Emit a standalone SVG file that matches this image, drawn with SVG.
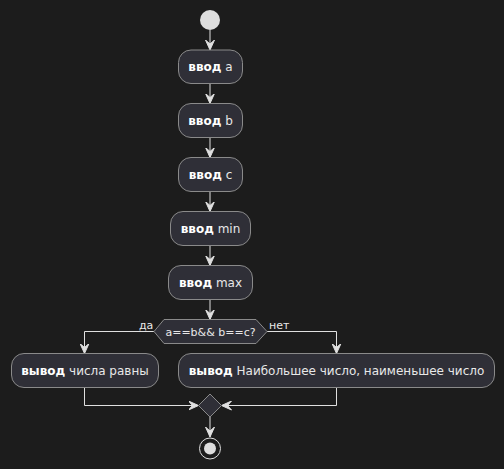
<svg xmlns="http://www.w3.org/2000/svg" width="504" height="469" viewBox="0 0 504 469">
<defs>
<style>
.n{fill:#2f2f37;stroke:#8a8a8a;stroke-width:1}
.t{font-family:"DejaVu Sans",sans-serif;font-size:12px;fill:#e8e8e8}
.b{font-weight:bold;fill:#ffffff}
.l{font-family:"DejaVu Sans",sans-serif;font-size:11px;fill:#e8e8e8}
.c{fill:none;stroke:#e0e0e0;stroke-width:1}
.ah{fill:#e0e0e0;stroke:#e0e0e0;stroke-width:1}
</style>
<marker id="a" viewBox="0 0 10 10" refX="10" refY="5" markerWidth="10" markerHeight="10" markerUnits="userSpaceOnUse" orient="auto">
<polygon class="ah" points="0,0.5 10,5 0,9.5 4,5"/>
</marker>
</defs>
<rect width="504" height="469" fill="#1c1c1c"/>
<g id="connectors">
<line class="c" x1="210" y1="30" x2="210" y2="50" marker-end="url(#a)"/>
<line class="c" x1="210" y1="83.5" x2="210" y2="103.5" marker-end="url(#a)"/>
<line class="c" x1="210" y1="137.5" x2="210" y2="157.5" marker-end="url(#a)"/>
<line class="c" x1="210" y1="191.5" x2="210" y2="211.5" marker-end="url(#a)"/>
<line class="c" x1="210" y1="245.5" x2="210" y2="265.5" marker-end="url(#a)"/>
<line class="c" x1="210" y1="299.5" x2="210" y2="319.5" marker-end="url(#a)"/>
<polyline class="c" points="154,331.5 84.5,331.5 84.5,353.5" marker-end="url(#a)"/>
<polyline class="c" points="267,331.5 336.5,331.5 336.5,353.5" marker-end="url(#a)"/>
<polyline class="c" points="84.5,387.5 84.5,405.5 198.5,405.5" marker-end="url(#a)"/>
<polyline class="c" points="336.5,387.5 336.5,405.5 221.5,405.5" marker-end="url(#a)"/>
<line class="c" x1="210" y1="417" x2="210" y2="437" marker-end="url(#a)"/>
<text class="l" x="139" y="329">да</text>
<text class="l" x="269" y="329">нет</text>
</g>
<g id="start"><circle cx="210" cy="20" r="10" fill="#dddddd"/></g>
<g id="n1"><rect class="n" x="178.5" y="50" width="64" height="33.5" rx="12.5"/><text class="t" x="210.5" y="71" text-anchor="middle"><tspan class="b">ввод</tspan> a</text></g>
<g id="n2"><rect class="n" x="178.5" y="103.5" width="64" height="34" rx="12.5"/><text class="t" x="210.5" y="125" text-anchor="middle"><tspan class="b">ввод</tspan> b</text></g>
<g id="n3"><rect class="n" x="178.5" y="157.5" width="64" height="34" rx="12.5"/><text class="t" x="210.5" y="179" text-anchor="middle"><tspan class="b">ввод</tspan> c</text></g>
<g id="n4"><rect class="n" x="170.5" y="211.5" width="80" height="34" rx="12.5"/><text class="t" x="210.5" y="233" text-anchor="middle"><tspan class="b">ввод</tspan> min</text></g>
<g id="n5"><rect class="n" x="168.5" y="265.5" width="84" height="34" rx="12.5"/><text class="t" x="210.5" y="287" text-anchor="middle"><tspan class="b">ввод</tspan> max</text></g>
<g id="d1"><polygon class="n" points="154,331.5 164,319.5 256,319.5 267,331.5 256,343.5 164,343.5"/><text class="l" x="210.5" y="335.5" text-anchor="middle">a==b&amp;&amp; b==c?</text></g>
<g id="n6"><rect class="n" x="11.5" y="353.5" width="147" height="34" rx="12.5"/><text class="t" x="85" y="375" text-anchor="middle"><tspan class="b">вывод</tspan> числа равны</text></g>
<g id="n7"><rect class="n" x="178.5" y="353.5" width="316" height="34" rx="12.5"/><text class="t" x="336.5" y="375" text-anchor="middle"><tspan class="b">вывод</tspan> Наибольшее число, наименьшее число</text></g>
<g id="merge"><polygon class="n" points="210,394 221.5,405.5 210,417 198.5,405.5"/></g>
<g id="end"><circle cx="210" cy="448.5" r="10.5" fill="none" stroke="#dddddd" stroke-width="1"/><circle cx="210" cy="448.5" r="6" fill="#dddddd"/></g>
</svg>
